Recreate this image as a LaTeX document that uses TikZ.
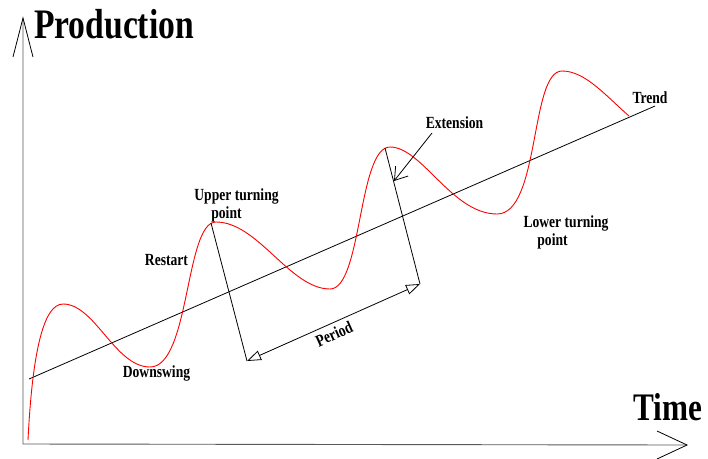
\documentclass[tikz,border=0pt]{standalone}
\usepackage{fontspec}
\setmainfont{Liberation Serif}[FakeStretch=0.8, BoldFont=Liberation Serif Bold, BoldFeatures={FakeStretch=0.8}]
\usetikzlibrary{arrows.meta}
\begin{document}
\begin{tikzpicture}[x=1pt,y=-1pt,
  lab/.style={font=\bfseries\fontsize{17}{18}\selectfont, inner sep=0pt, anchor=base},
  big/.style={font=\bfseries\fontsize{42}{44}\selectfont, inner sep=0pt, anchor=base},
  axis/.style={draw=black!65, line width=0.9pt},
  thin/.style={draw=black, line width=0.8pt},
  cycle/.style={draw=red, line width=0.9pt},
  period/.style={thin, {Triangle[open,length=14pt,width=10pt]}-{Triangle[open,length=14pt,width=10pt]}},
  ext/.style={thin, -{Straight Barb[length=12pt,width=16pt]}}]
\useasboundingbox (0,0) rectangle (708,458);
% axes
\coordinate (O) at (23,444);
\coordinate (Ytip) at (23,18);
\coordinate (Yl) at (13,57);
\coordinate (Yr) at (33,57);
\coordinate (Xtip) at (687,445);
\coordinate (Xu) at (657,431);
\coordinate (Xd) at (657,459);
\draw[axis] (Ytip) -- (O) -- (Xtip);
\draw[thin] (Yl) -- (Ytip) -- (Yr);
\draw[thin] (Xu) -- (Xtip) -- (Xd);
% trend
\coordinate (T0) at (29,379);
\coordinate (T1) at (655,106);
\draw[thin] (T0) -- (T1);
% cycle curve
\draw[cycle] (28,440) .. controls (32,360) and (42,304) .. (63,304)
  .. controls (95,304) and (115,367) .. (150,367)
  .. controls (190,367) and (185,222) .. (216,222)
  .. controls (258,222) and (290,289) .. (330,289)
  .. controls (362,289) and (358,147) .. (390,147)
  .. controls (422,147) and (452,214) .. (497,214)
  .. controls (540,214) and (530,71) .. (562,71)
  .. controls (585,71) and (605,95) .. (629,116);
% period construction
\coordinate (P1) at (211,223);
\coordinate (P2) at (247,361);
\coordinate (P3) at (420,284);
\coordinate (P4) at (385,148);
\draw[thin] (P1) -- (P2);
\draw[thin] (P4) -- (P3);
\draw[period] (P2) -- (P3);
% extension
\coordinate (E0) at (432,133);
\coordinate (E1) at (394,181);
\draw[ext] (E0) -- (E1);
% labels
\node[big] (prod) at (114,38) {Production};
\node[big, font=\bfseries\fontsize{39}{41}\selectfont] (time) at (668,420) {Time};
\node[lab] (trend) at (650,103) {Trend};
\node[lab] (extl) at (454.5,128) {Extension};
\node[lab] (upa) at (236.5,200) {Upper turning};
\node[lab] (upb) at (226.5,218) {point};
\node[lab] (restart) at (166.5,265) {Restart};
\node[lab] (down) at (156.5,377) {Downswing};
\node[lab] (lowa) at (566,227) {Lower turning};
\node[lab] (lowb) at (552.5,245) {point};
\node[lab, anchor=center, rotate=24] (per) at (334,334) {Period};
\end{tikzpicture}
\end{document}
